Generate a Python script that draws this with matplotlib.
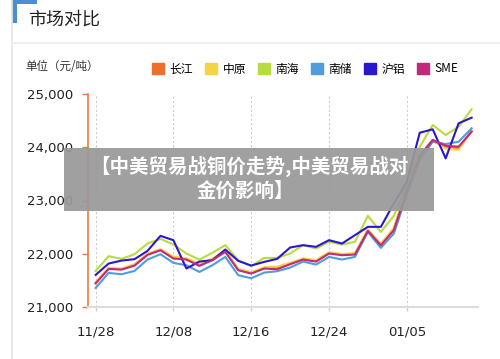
import matplotlib
matplotlib.use("Agg")
import matplotlib.pyplot as plt
from matplotlib.patches import Rectangle, Patch
from matplotlib.lines import Line2D
from matplotlib.ticker import FuncFormatter

plt.rcParams['font.family'] = ['Noto Sans CJK SC', 'DejaVu Sans']

dates = ["11/28", "11/29", "11/30", "12/01", "12/04", "12/05",
         "12/08", "12/09", "12/11", "12/12", "12/13", "12/14",
         "12/16", "12/17", "12/18", "12/19", "12/20", "12/21",
         "12/24", "12/25", "12/26", "12/27", "12/28", "01/04",
         "01/05", "01/06", "01/07", "01/08", "01/09", "01/10"]

names = ["长江", "中原", "南海", "南储", "沪铝", "SME"]
colors = ["#ee6f2d", "#f5d442", "#b8dc40", "#4f9ddd", "#2c17d0", "#c2297a"]

changjiang = [21452, 21722, 21709, 21791, 21991, 22073, 21929, 21904, 21797, 21891,
              22054, 21703, 21640, 21734, 21747, 21816, 21903, 21866, 22017, 21985,
              21998, 22442, 22173, 22474, 23195, 23853, 24136, 24010, 23980, 24311]
zhongyuan = [21465, 21735, 21722, 21805, 22005, 22085, 21945, 21918, 21810, 21905,
             22066, 21716, 21652, 21748, 21760, 21830, 21915, 21880, 22030, 21998,
             22012, 22455, 22186, 22488, 23210, 23865, 24120, 23975, 23950, 24300]
nanhai = [21678, 21954, 21904, 21992, 22192, 22280, 22173, 22004, 21891, 22017,
          22161, 21879, 21766, 21922, 21922, 22004, 22161, 22098, 22224, 22173,
          22224, 22712, 22410, 22712, 23289, 24010, 24418, 24230, 24386, 24713]
nanchu = [21358, 21640, 21615, 21678, 21891, 21991, 21828, 21784, 21659, 21784,
          21941, 21596, 21540, 21646, 21672, 21740, 21853, 21797, 21941, 21891,
          21941, 22410, 22110, 22379, 23101, 23760, 24104, 24060, 24104, 24356]
hulv = [21603, 21816, 21872, 21898, 22054, 22336, 22254, 21722, 21853, 21879,
        22079, 21866, 21778, 21847, 21904, 22117, 22161, 22130, 22255, 22192,
        22349, 22505, 22505, 22944, 23346, 24273, 24337, 23791, 24450, 24555]
sme = [21445, 21715, 21703, 21778, 21979, 22066, 21910, 21891, 21772, 21879,
       22035, 21690, 21628, 21722, 21709, 21803, 21891, 21853, 22004, 21973,
       21985, 22429, 22160, 22442, 23176, 23834, 24136, 24029, 24010, 24292]

series = [changjiang, zhongyuan, nanhai, nanchu, hulv, sme]
yticks = [21000, 22000, 23000, 24000, 25000]

fig = plt.figure(figsize=(5, 3.59), dpi=100)
W, H = 500, 359

def fx(px):
    return px / W

def fy(py):
    return 1 - py / H

# card decorations
fig.add_artist(Line2D([fx(12), fx(12)], [0, 1], color="#e6e6e6", lw=1.2))
fig.add_artist(Line2D([fx(12), 1], [fy(42.5), fy(42.5)], color="#eeeeee", lw=1.2))
fig.add_artist(Rectangle((fx(12), fy(4)), fx(25), 4 / H, color="#4a8fd4", lw=0))
fig.add_artist(Rectangle((fx(12), fy(23)), fx(5), 23 / H, color="#4a8fd4", lw=0))
fig.text(fx(28), fy(20), "市场对比", fontsize=13, color="#222222", va="center", ha="left")
fig.text(fx(25), fy(67), "单位（元/吨）", fontsize=8.3, color="#333333", va="center", ha="left")

ax = fig.add_axes([fx(88), fy(307), fx(477.7 - 88), (307 - 94) / H])
x = list(range(len(dates)))
for s, c in zip(series, colors):
    ax.plot(x, s, color=c, lw=1.5)

ax.set_xlim(-0.59, 29.47)
ax.set_ylim(21000, 25000)
ax.set_xticks(x[::6])
ax.set_xticklabels(dates[::6], family="DejaVu Sans", fontsize=9.5, color="#222222")
ax.set_yticks(yticks)
ax.yaxis.set_major_formatter(FuncFormatter(lambda v, p: f"{int(v):,}"))
for lab in ax.get_yticklabels():
    lab.set_family("DejaVu Sans")
ax.tick_params(axis="y", colors="#ee7a3a", length=4.3, width=1, pad=6.5,
               labelsize=9.5, labelcolor="#222222")
ax.tick_params(axis="x", colors="#d0d0d0", length=3, width=1, pad=10,
               labelsize=9.5, labelcolor="#222222")
ax.spines["left"].set_color("#ee7a3a")
ax.spines["left"].set_linewidth(1.2)
ax.spines["bottom"].set_color("#dddddd")
ax.spines["bottom"].set_linewidth(1.5)
ax.spines["top"].set_visible(False)
ax.spines["right"].set_visible(False)
ax.grid(axis="x", linestyle=(0, (2, 2)), color="#cccccc", lw=0.8)
ax.grid(axis="y", visible=False)

handles = [Patch(facecolor=c, edgecolor=c) for c in colors]
fig.legend(handles, names, loc="center left", bbox_to_anchor=(fx(152), fy(69)),
           ncol=6, frameon=False, fontsize=8.5, handlelength=1.0, handleheight=1.0,
           handletextpad=0.5, columnspacing=1.0, borderpad=0, borderaxespad=0)

# overlay caption box
fig.add_artist(Rectangle((fx(64), fy(210.7)), fx(434 - 64), (210.7 - 148) / H,
                         color="#999999", alpha=0.93, lw=0, zorder=10))
fig.text(fx(249), fy(166.5), "【中美贸易战铜价走势,中美贸易战对", fontsize=14,
         weight="heavy", color="white", ha="center", va="center", zorder=11)
fig.text(fx(245), fy(191.5), "金价影响】", fontsize=14,
         weight="heavy", color="white", ha="center", va="center", zorder=11)

fig.savefig("out.png", dpi=100, facecolor="white")
